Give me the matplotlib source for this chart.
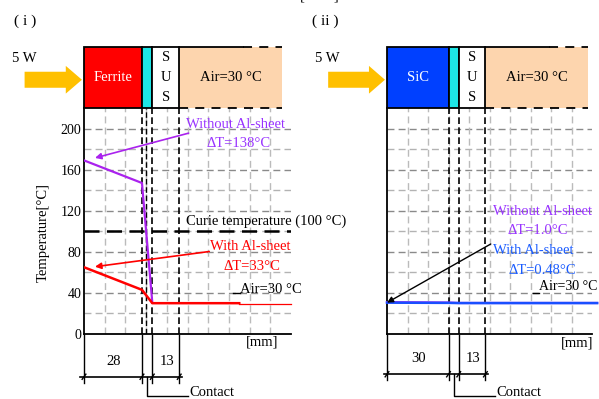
import matplotlib
matplotlib.use('Agg')
import matplotlib.pyplot as plt
from matplotlib.patches import Rectangle, Polygon

plt.rcParams['font.family'] = ['Liberation Serif', 'DejaVu Serif']

# ---------------- data ----------------
y_ticks = [0, 40, 80, 120, 160, 200]
curie_temp = 100

# panel (i) Ferrite
edges_i = [0, 28, 33, 46, 95.7]
pos_wo_i = [0, 28, 33]
temp_wo_i = [169, 147, 30.5]
pos_w_i = [0, 28, 33, 75]
temp_w_i = [65, 43, 30, 30]
pos_tail_i = [75, 100]
temp_tail_i = [29.5, 29.5]
dims_i = [28, 13]

# panel (ii) SiC
edges_ii = [0, 30, 35, 48, 98.2]
pos_wo_ii = [0, 30, 35, 102.5]
temp_wo_ii = [31.0, 30.6, 30.2, 30.2]
pos_w_ii = [0, 30, 35, 102.5]
temp_w_ii = [30.5, 30.3, 30.1, 30.1]
dims_ii = [30, 13]

# ---------------- figure ----------------
W, H = 599, 399
fig = plt.figure(figsize=(W / 100, H / 100), dpi=100)


def ax_rect(x0, x1, ytop, ybot):
    return [x0 / W, 1 - ybot / H, (x1 - x0) / W, (ybot - ytop) / H]


axL = fig.add_axes(ax_rect(84, 291, 108, 334))
axR = fig.add_axes(ax_rect(387, 592, 108, 334))

FS = 10.5
PURPLE = '#9933ff'
PURPLE_L = '#aa22ee'
RED = '#ff0000'
BLUE_T = '#1a5cff'
BLUE_L = '#1a4fff'
CYAN = '#1de6e6'
PEACH = '#fdd5ae'
ORANGE = '#ffc000'
BLOCK_TOP = 279


def setup(ax, show_ticks):
    ax.set_xlim(0, 100)
    ax.set_ylim(0, 220)
    for s in ['top', 'right']:
        ax.spines[s].set_visible(False)
    for s in ['left', 'bottom']:
        ax.spines[s].set_linewidth(1.3)
        ax.spines[s].set_color('black')
    ax.set_xticks([])
    ax.set_yticks(y_ticks)
    ax.tick_params(axis='y', length=0, pad=2, labelsize=10)
    if not show_ticks:
        ax.set_yticklabels([])
    # horizontal grid
    for yv in range(20, 220, 20):
        col = '#8a8a8a' if yv % 40 == 0 else '#b3b3b3'
        ax.plot([0, 100], [yv, yv], color=col, lw=1.0, ls=(0, (5, 3)), zorder=1)
    # vertical grid
    for xv in range(10, 100, 10):
        ax.plot([xv, xv], [0, 220], color='#bbbbbb', lw=1.0, ls=(0, (5, 3)), zorder=1)


def blocks(ax, edges, cols, first_label):
    ybot, ytop = 220, BLOCK_TOP
    for i in range(3):
        ax.add_patch(Rectangle((edges[i], ybot), edges[i + 1] - edges[i], ytop - ybot,
                               facecolor=cols[i], edgecolor='black', lw=1.3,
                               clip_on=False, zorder=3))
    ax.add_patch(Rectangle((edges[3], ybot), edges[4] - edges[3], ytop - ybot,
                           facecolor=PEACH, edgecolor='none', clip_on=False, zorder=2))
    solid_end = edges[3] + 0.62 * (edges[4] - edges[3])
    ax.plot([edges[3], solid_end], [ytop, ytop], color='black', lw=1.3, clip_on=False, zorder=4)
    ax.plot([solid_end, edges[4]], [ytop, ytop], color='black', lw=1.3,
            ls=(0, (5, 4)), clip_on=False, zorder=4)
    ax.plot([edges[3], edges[4]], [ybot, ybot], color='black', lw=1.3,
            ls=(0, (5, 4)), clip_on=False, zorder=4)
    ymid = (ybot + ytop) / 2
    ax.text((edges[0] + edges[1]) / 2, ymid, first_label, color='white', fontsize=FS,
            ha='center', va='center', zorder=5)
    xs = (edges[2] + edges[3]) / 2
    for k, ch in enumerate('SUS'):
        ax.text(xs, ymid + 19.5 * (1 - k), ch, color='black', fontsize=FS,
                ha='center', va='center', zorder=5)
    ax.text((edges[3] + edges[4]) / 2, ymid, 'Air=30 °C', color='black', fontsize=FS,
            ha='center', va='center', zorder=5)
    # heat input arrow
    yc = ymid - 2
    poly = [(-28.7, yc - 7.8), (-8.8, yc - 7.8), (-8.8, yc - 13.5), (-1, yc),
            (-8.8, yc + 13.5), (-8.8, yc + 7.8), (-28.7, yc + 7.8)]
    ax.add_patch(Polygon(poly, closed=True, facecolor=ORANGE, edgecolor='none',
                         clip_on=False, zorder=3))
    ax.text(-29, 268, '5 W', fontsize=FS, ha='center', va='center')


def dims(ax, xs, vals, ydim, contact_x, contact_end):
    for xv in xs:
        ax.plot([xv, xv], [-0.5, ydim - 6], color='black', lw=1.0, clip_on=False)
        ax.plot([xv - 0.9, xv + 0.9], [ydim - 2.5, ydim + 2.5], color='black', lw=1.0,
                clip_on=False)
    ax.plot([xs[0] - 1.7, xs[-1] + 1.3], [ydim, ydim], color='black', lw=1.2, clip_on=False)
    ax.text((xs[0] + xs[1]) / 2 + 0.3, ydim + 15, str(vals[0]), fontsize=FS,
            ha='center', va='center')
    ax.text((xs[2] + xs[3]) / 2 + 0.5, ydim + 15, str(vals[1]), fontsize=FS,
            ha='center', va='center')
    ax.plot([contact_x, contact_x, contact_end], [ydim, -60.2, -60.2], color='black',
            lw=1.0, clip_on=False)
    ax.text(contact_end + 0.8, -57.0, 'Contact', fontsize=FS, ha='left', va='center')


# ---------------- panel (i) ----------------
setup(axL, True)
for xv, lw in [(28, 1.2), (30, 1.0), (33, 1.2), (46, 1.2)]:
    axL.plot([xv, xv], [0, 220], color='black', lw=lw, ls=(0, (4, 2)), zorder=2)
axL.plot([0, 100], [curie_temp, curie_temp], color='black', lw=1.8, ls=(0, (6, 3)), zorder=2)
axL.plot(pos_wo_i, temp_wo_i, color=PURPLE_L, lw=1.6, zorder=5)
axL.plot(pos_w_i, temp_w_i, color=RED, lw=1.8, zorder=6)
axL.plot(pos_tail_i, temp_tail_i, color=RED, lw=0.9, zorder=6, clip_on=False)
blocks(axL, edges_i, ['#ff0000', CYAN, 'white'], 'Ferrite')
dims(axL, [0, 28, 33, 46], dims_i, -41.6, 30.6, 50.2)

axL.annotate('', xy=(5.3, 171.4), xytext=(50.5, 195.5),
             arrowprops=dict(arrowstyle='-|>', color=PURPLE_L, lw=1.2,
                             mutation_scale=9, shrinkA=0, shrinkB=0), zorder=7)
axL.text(49.3, 203.5, 'Without Al-sheet', color=PURPLE, fontsize=FS, ha='left',
         va='center', clip_on=False)
axL.text(74.6, 185.7, 'ΔT=138°C', color=PURPLE, fontsize=FS, ha='center', va='center')
axL.annotate('', xy=(5.3, 65.5), xytext=(60.5, 80.3),
             arrowprops=dict(arrowstyle='-|>', color=RED, lw=1.2,
                             mutation_scale=9, shrinkA=0, shrinkB=0), zorder=7)
axL.text(60.9, 84.7, 'With Al-sheet', color=RED, fontsize=FS, ha='left', va='center',
         clip_on=False)
axL.text(80.9, 65.5, 'ΔT=33°C', color=RED, fontsize=FS, ha='center', va='center')
axL.text(49.3, 110, 'Curie temperature (100 °C)', color='black', fontsize=FS,
         ha='left', va='center', clip_on=False)
axL.plot([72, 75.4], [40, 40], color='black', lw=1.0, zorder=4)
axL.text(75.4, 43.5, 'Air=30 °C', color='black', fontsize=FS, ha='left', va='center',
         clip_on=False)
axL.text(86.2, -7.5, '[mm]', fontsize=FS, ha='center', va='center')

# ---------------- panel (ii) ----------------
setup(axR, False)
for xv in [30, 35, 48]:
    axR.plot([xv, xv], [0, 220], color='black', lw=1.2, ls=(0, (4, 2)), zorder=2)
axR.plot(pos_wo_ii, temp_wo_ii, color=PURPLE_L, lw=1.6, zorder=5, clip_on=False)
axR.plot(pos_w_ii, temp_w_ii, color=BLUE_L, lw=1.8, zorder=6, clip_on=False)
blocks(axR, edges_ii, ['#0040ff', CYAN, 'white'], 'SiC')
dims(axR, [0, 30, 35, 48], dims_ii, -39.2, 32.7, 52.7)

axR.annotate('', xy=(0, 30.5), xytext=(50.6, 87.6),
             arrowprops=dict(arrowstyle='-|>', color='black', lw=1.0,
                             mutation_scale=9, shrinkA=0, shrinkB=0), zorder=7)
axR.text(51.9, 118.8, 'Without Al-sheet', color=PURPLE, fontsize=FS, ha='left',
         va='center', clip_on=False)
axR.text(73.5, 100.6, 'ΔT=1.0°C', color=PURPLE, fontsize=FS, ha='center', va='center')
axR.text(51.9, 80.8, 'With Al-sheet', color=BLUE_T, fontsize=FS, ha='left', va='center',
         clip_on=False)
axR.text(75.6, 61.6, 'ΔT=0.48°C', color=BLUE_T, fontsize=FS, ha='center', va='center')
axR.plot([71.2, 74.2], [39.5, 39.5], color='black', lw=1.0, zorder=4)
axR.text(74.2, 46, 'Air=30 °C', color='black', fontsize=10, ha='left', va='center',
         clip_on=False)
axR.text(92.7, -9, '[mm]', fontsize=FS, ha='center', va='center')

# ---------------- figure texts ----------------
fig.text(43 / W, 1 - 233 / H, 'Temperature[°C]', rotation=90, fontsize=FS,
         ha='center', va='center')
fig.text(25 / W, 1 - 21.5 / H, '( i )', fontsize=FS + 0.5, ha='center', va='center')
fig.text(325 / W, 1 - 21.5 / H, '( ii )', fontsize=FS + 0.5, ha='center', va='center')
fig.text(319 / W, 1.0, '[        ]', fontsize=FS, ha='center', va='baseline')

fig.savefig('out.png', dpi=100)
